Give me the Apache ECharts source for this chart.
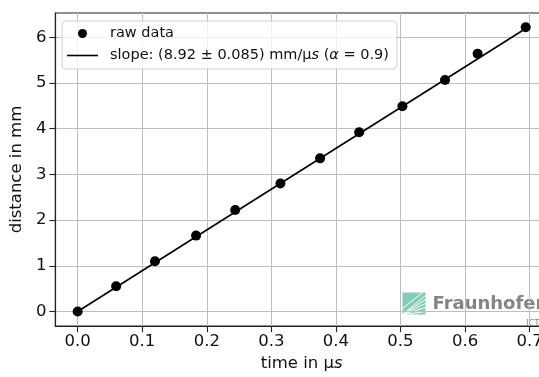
<!DOCTYPE html>
<html>
<head>
<meta charset="utf-8">
<script src="https://cdn.jsdelivr.net/npm/echarts@6/dist/echarts.min.js"></script>
<style>html,body{margin:0;padding:0;background:#fff;overflow:hidden;width:539px;height:377px}#c{width:548px;height:377px}</style>
</head>
<body>
<div id="c"></div>
<script>
// measured data
var timeUs = [0, 0.0596, 0.1197, 0.1834, 0.244, 0.314, 0.3755, 0.436, 0.503, 0.569, 0.6195, 0.694];
var distMm = [0, 0.55, 1.10, 1.66, 2.22, 2.80, 3.35, 3.92, 4.49, 5.065, 5.64, 6.22];
// fitted line end points
var fitX = [0, 0.694];
var fitY = [0, 6.19];
// tick labels
var xTicks = [0, 0.1, 0.2, 0.3, 0.4, 0.5, 0.6, 0.7];
var yTicks = [0, 1, 2, 3, 4, 5, 6];
var legendRaw = 'raw data';
var legendFit = 'slope: (8.92 ± 0.085) mm/µs (α = 0.9)';

var FONT = 'DejaVu Sans';
var chart = echarts.init(document.getElementById('c'), null, {renderer: 'canvas'});

function pairs(xs, ys) { return xs.map(function (x, i) { return [x, ys[i]]; }); }

chart.setOption({
  animation: false,
  backgroundColor: '#fff',
  textStyle: {fontFamily: FONT},
  grid: {left: 54, right: 0, top: 13, bottom: 44, containLabel: false,
    show: true, borderColor: '#222', borderWidth: 1.2, backgroundColor: 'transparent'},
  xAxis: {
    type: 'value', min: -0.0345, max: 0.7285,
    name: '{n|time in µ}{i|s}', nameLocation: 'middle', nameGap: 26,
    nameTextStyle: {fontFamily: FONT, fontSize: 16.5, color: '#111',
      rich: {
        n: {fontFamily: FONT, fontSize: 16.5, color: '#111'},
        i: {fontFamily: FONT, fontSize: 16.5, color: '#111', fontStyle: 'italic'}
      }},
    axisLine: {show: true, onZero: false, lineStyle: {color: '#222', width: 1.2}},
    axisTick: {show: true, length: 6, customValues: xTicks, lineStyle: {color: '#222', width: 1.1}},
    axisLabel: {customValues: xTicks, margin: 7, fontFamily: FONT, fontSize: 16.5, color: '#111',
      formatter: function (v) { return v.toFixed(1); }},
    splitLine: {show: true, customValues: xTicks, lineStyle: {color: '#bdbdbd', width: 1}}
  },
  yAxis: {
    type: 'value', min: -0.32, max: 6.53,
    name: 'distance in mm', nameLocation: 'middle', nameGap: 23,
    nameTextStyle: {fontFamily: FONT, fontSize: 16.5, color: '#111'},
    axisLine: {show: true, onZero: false, lineStyle: {color: '#222', width: 1.2}},
    axisTick: {show: true, length: 6, customValues: yTicks, lineStyle: {color: '#222', width: 1.1}},
    axisLabel: {customValues: yTicks, margin: 9, fontFamily: FONT, fontSize: 16.5, color: '#111',
      formatter: function (v) { return String(Math.round(v)); }},
    splitLine: {show: true, customValues: yTicks, lineStyle: {color: '#bdbdbd', width: 1}}
  },
  legend: {
    orient: 'vertical', left: 62, top: 21,
    padding: [5, 8, 6, 5],
    itemWidth: 31, itemHeight: 9, itemGap: 7,
    backgroundColor: 'rgba(255,255,255,0.8)',
    borderColor: '#d0d0d0', borderWidth: 1, borderRadius: 4,
    textStyle: {fontFamily: FONT, fontSize: 14.5, color: '#111', padding: [0, 0, 0, 7],
      rich: {
        n: {fontFamily: FONT, fontSize: 14.5, color: '#111'},
        i: {fontFamily: FONT, fontSize: 14.5, color: '#111', fontStyle: 'italic'}
      }},
    formatter: function (name) {
      if (name === legendFit) {
        return '{n|slope: (8.92 ± 0.085) mm/µ}{i|s}{n| (}{i|α}{n| = 0.9)}';
      }
      return name;
    },
    data: [
      {name: legendRaw, icon: 'circle', itemStyle: {color: '#000', opacity: 1}},
      {name: legendFit, icon: 'path://M0,0M0,3.7H31V5.3H0ZM31,9', itemStyle: {color: '#000', opacity: 1}}
    ]
  },
  graphic: {
    elements: [
      {
        type: 'group', left: 400, top: 290, silent: true, z: -1,
        children: [
          {type: 'rect', shape: {x: 0, y: 0, width: 23, height: 22}, style: {fill: '#7ccab3', opacity: 0.95}},
          {type: 'line', shape: {x1: 0, y1: 22, x2: 23, y2: 3}, style: {stroke: '#fff', lineWidth: 1}},
          {type: 'line', shape: {x1: 0, y1: 22, x2: 23, y2: 7}, style: {stroke: '#fff', lineWidth: 1}},
          {type: 'line', shape: {x1: 0, y1: 22, x2: 23, y2: 11}, style: {stroke: '#fff', lineWidth: 1}},
          {type: 'line', shape: {x1: 0, y1: 22, x2: 23, y2: 15}, style: {stroke: '#fff', lineWidth: 1}},
          {type: 'line', shape: {x1: 3, y1: 22, x2: 23, y2: 19}, style: {stroke: '#fff', lineWidth: 1}},
          {type: 'line', shape: {x1: 0, y1: 16, x2: 20, y2: 0}, style: {stroke: '#fff', lineWidth: 1}},
          {type: 'text', x: 30, y: 3, style: {text: 'Fraunhofer', fontFamily: FONT, fontWeight: 'bold',
            fontSize: 18, fill: '#7d7d7d', opacity: 0.95}},
          {type: 'text', x: 124, y: 27, style: {text: 'ICT', fontFamily: FONT, fontSize: 8, fill: '#7d7d7d'}}
        ]
      }
    ]
  },
  series: [
    {
      name: legendRaw, type: 'scatter', data: pairs(timeUs, distMm),
      symbol: 'circle', symbolSize: 10, itemStyle: {color: '#000', opacity: 1}, z: 3
    },
    {
      name: legendFit, type: 'line', data: pairs(fitX, fitY),
      symbol: 'none', showSymbol: false,
      lineStyle: {color: '#000', width: 1.6}, itemStyle: {color: '#000'}, z: 2
    }
  ]
});
</script>
</body>
</html>
